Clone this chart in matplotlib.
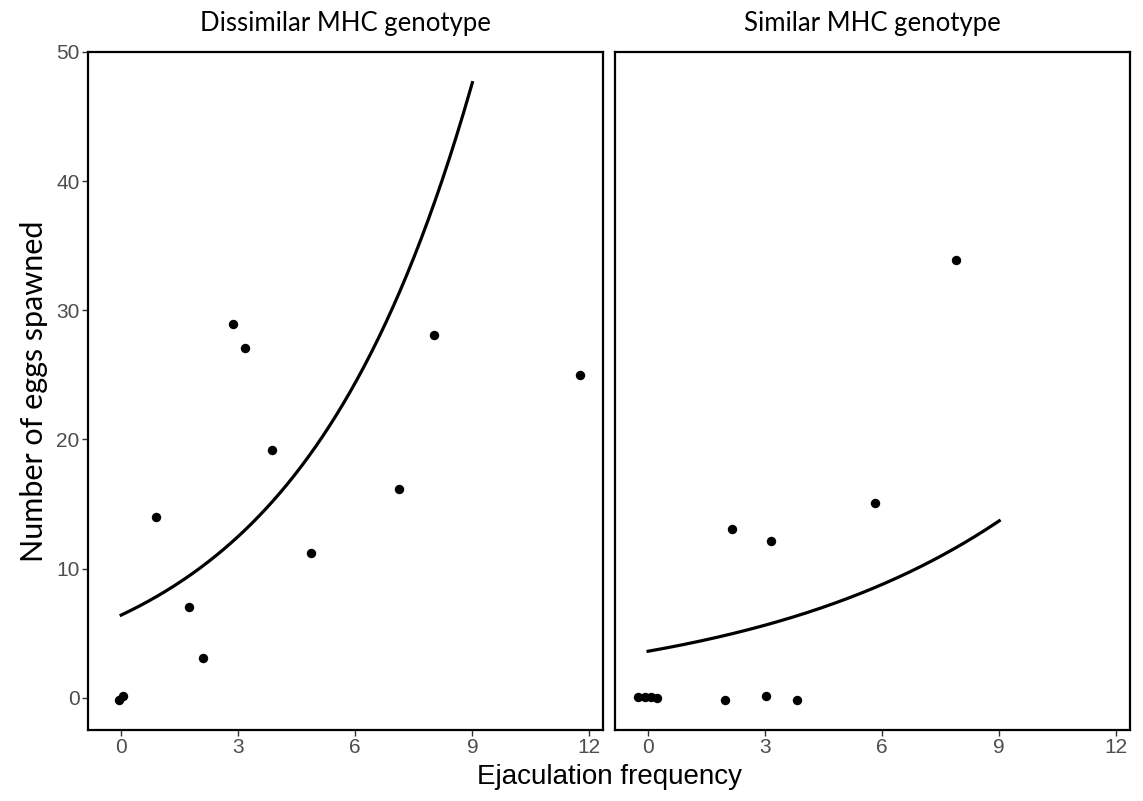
import matplotlib.pyplot as plt
import numpy as np

# panel titles
panels = ['Dissimilar MHC genotype', 'Similar MHC genotype']

# observed points
dis_x = [-0.05, 0.05, 0.9, 1.74, 2.1, 2.87, 3.18, 3.87, 4.87, 7.13, 8.03, 11.77]
dis_y = [-0.15, 0.1, 14.0, 7.0, 3.1, 28.9, 27.1, 19.2, 11.2, 16.2, 28.1, 25.0]
sim_x = [-0.26, -0.08, 0.07, 0.23, 1.97, 2.15, 3.03, 3.15, 3.82, 5.82, 7.9]
sim_y = [0.05, 0.05, 0.05, -0.05, -0.15, 13.1, 0.1, 12.1, -0.15, 15.1, 33.9]

# fitted poisson curves: (intercept at x=0, log slope), drawn over 0..9
dis_fit = (6.4, 0.223)
sim_fit = (3.6, 0.1485)
fit_range = (0, 9)

xticks = [0, 3, 6, 9, 12]
yticks = [0, 10, 20, 30, 40, 50]

plt.rcParams['font.family'] = ['Liberation Sans', 'DejaVu Sans']
calib = ['Lato', 'DejaVu Sans']

fig = plt.figure(figsize=(11.43, 8.01), dpi=100)
ax1 = fig.add_axes([0.077, 0.0886, 0.4506, 0.8465])
ax2 = fig.add_axes([0.538, 0.0886, 0.4506, 0.8465])

data = [(dis_x, dis_y, dis_fit), (sim_x, sim_y, sim_fit)]
for i, (ax, (xs, ys, fit)) in enumerate(zip([ax1, ax2], data)):
    xx = np.linspace(fit_range[0], fit_range[1], 200)
    ax.plot(xx, fit[0] * np.exp(fit[1] * xx), color='black', linewidth=2.3, zorder=2)
    ax.scatter(xs, ys, s=46, color='black', zorder=3, linewidths=0)
    ax.set_xlim(-0.85, 12.35)
    ax.set_ylim(-2.5, 50)
    ax.set_xticks(xticks)
    ax.set_yticks(yticks)
    for sp in ax.spines.values():
        sp.set_linewidth(1.6)
        sp.set_color('black')
    ax.tick_params(axis='both', direction='out', length=4, width=1.0,
                   color='#333333', labelsize=15, labelcolor='#4D4D4D', pad=2)
    ax.set_title(panels[i], family=calib, fontsize=18.5, pad=15)
    if i == 1:
        ax.tick_params(axis='y', left=False, labelleft=False)

ax1.set_ylabel('Number of eggs spawned', family=calib, fontsize=22, labelpad=6)
fig.text(0.533, 0.03, 'Ejaculation frequency', ha='center', va='center', fontsize=20)

plt.savefig('out.png', dpi=100)
